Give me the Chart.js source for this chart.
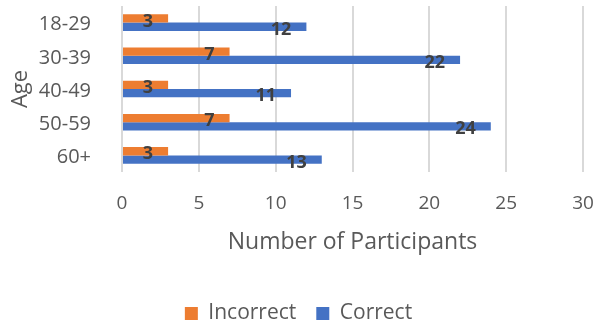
<!DOCTYPE html>
<html>
<head>
<meta charset="utf-8">
<script src="https://cdn.jsdelivr.net/npm/chart.js@4"></script>
<style>
  html, body { margin: 0; padding: 0; background: #fff; }
</style>
</head>
<body>
<canvas id="ageChart" width="597" height="322"></canvas>
<script>
const ageGroups = ['18-29', '30-39', '40-49', '50-59', '60+'];
const incorrect = [3, 7, 3, 7, 3];
const correct = [12, 22, 11, 24, 13];
const xTicks = [0, 5, 10, 15, 20, 25, 30];

const FONT = "'Open Sans', sans-serif";

// value labels at the inside end of each bar
const barLabels = {
  id: 'barLabels',
  afterDatasetsDraw(chart) {
    const ctx = chart.ctx;
    ctx.save();
    ctx.font = "bold 18px " + FONT;
    ctx.fillStyle = '#404040';
    ctx.textAlign = 'right';
    ctx.textBaseline = 'middle';
    chart.data.datasets.forEach((ds, i) => {
      chart.getDatasetMeta(i).data.forEach((bar, j) => {
        ctx.fillText(ds.data[j], bar.x - 15, bar.y + 3);
      });
    });
    ctx.restore();
  }
};

// push the legend down to the bottom edge
const legendShift = {
  id: 'legendShift',
  afterLayout(chart) {
    chart.legend.top += 12;
    chart.legend.bottom += 12;
  }
};

new Chart(document.getElementById('ageChart'), {
  type: 'bar',
  data: {
    labels: ageGroups,
    datasets: [{
      label: 'Incorrect',
      data: incorrect,
      backgroundColor: '#ED7D31'
    }, {
      label: 'Correct',
      data: correct,
      backgroundColor: '#4472C4'
    }]
  },
  options: {
    indexAxis: 'y',
    responsive: false,
    animation: false,
    categoryPercentage: 0.5,
    barPercentage: 1,
    layout: { padding: { top: 6, right: 0, left: 0, bottom: 0 } },
    plugins: {
      legend: {
        position: 'bottom',
        labels: {
          boxWidth: 13,
          boxHeight: 13,
          padding: 20,
          color: '#595959',
          font: { family: FONT, size: 21 }
        }
      },
      tooltip: { enabled: false }
    },
    scales: {
      x: {
        min: 0,
        max: 30,
        afterBuildTicks(scale) {
          scale.ticks = xTicks.map(v => ({ value: v }));
        },
        afterFit(scale) {
          scale.height = 99;
          scale.paddingLeft = 0;
          scale.paddingRight = 14;
        },
        grid: {
          color: '#d9d9d9',
          lineWidth: 2,
          drawTicks: false
        },
        border: { display: false },
        ticks: {
          padding: 20,
          color: '#595959',
          font: { family: FONT, size: 19 }
        },
        title: {
          display: true,
          text: 'Number of Participants',
          color: '#595959',
          font: { family: FONT, size: 23 },
          padding: { top: 0, bottom: 15 }
        }
      },
      y: {
        afterFit(scale) {
          scale.width = 122;
          scale.paddingTop = 0;
          scale.paddingBottom = 0;
        },
        grid: { display: false },
        border: { display: false },
        ticks: {
          padding: 23,
          labelOffset: 2,
          color: '#595959',
          font: { family: FONT, size: 20 }
        },
        title: {
          display: true,
          text: 'Age',
          color: '#595959',
          font: { family: FONT, size: 22 },
          padding: { top: 8, bottom: 0 }
        }
      }
    }
  },
  plugins: [barLabels, legendShift]
});
</script>
</body>
</html>
